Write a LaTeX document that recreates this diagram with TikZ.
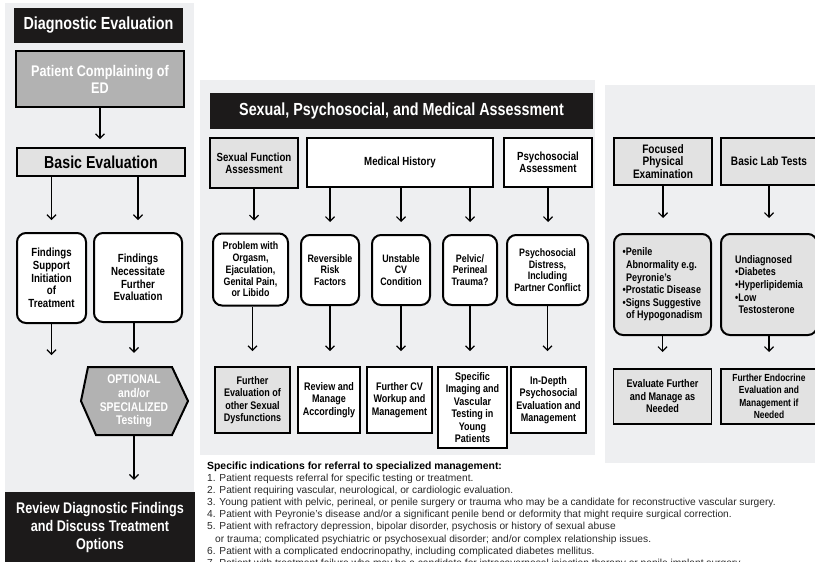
\documentclass[tikz,border=0pt]{standalone}
\usepackage{fontspec}
\setmainfont{Liberation Sans}[FakeStretch=0.82]
\newfontfamily\listfont{Liberation Sans}
\usetikzlibrary{positioning,arrows.meta}
\definecolor{panelgray}{RGB}{238,239,241}
\definecolor{boxgray}{RGB}{178,178,178}
\definecolor{lightbox}{RGB}{226,226,226}
\definecolor{boxblack}{RGB}{28,26,26}
\definecolor{listgray}{RGB}{40,40,40}
\newcommand{\fs}[2]{\fontsize{#1}{#2}\selectfont}

\tikzset{
  >={Straight Barb[length=4.5pt,width=9pt]},
  wh/.style 2 args={minimum width=#1pt, minimum height=#2pt},
  blackbar/.style={fill=boxblack, text=white, inner sep=0pt, align=center, font=\bfseries\fs{17.5}{19}},
  greybox/.style={draw, line width=2pt, fill=boxgray, text=white, inner sep=0pt, align=center, font=\bfseries\fs{15.4}{17}},
  flatbox/.style={draw, line width=1.8pt, fill=white, inner sep=0pt, align=center, font=\bfseries\fs{11}{12.4}},
  softbox/.style={flatbox, fill=lightbox},
  hdbox/.style={flatbox, font=\bfseries\fs{11.8}{12}},
  roundbox/.style={flatbox, line width=2pt, rounded corners=9pt, font=\bfseries\fs{10.8}{11.7}},
  arr/.style={->, line width=1.2pt, shorten >=12pt},
}

\begin{document}
\begin{tikzpicture}[x=1pt, y=-1pt]
\useasboundingbox (0,0) rectangle (815,562);
% panels
\fill[panelgray] (5,3) rectangle (194,492);
\fill[panelgray] (200,80) rectangle (595,455);
\fill[panelgray] (605,85) rectangle (820,463);

% diagnostic evaluation column
\node[blackbar, wh={169}{35}] (diag) at (98.5,25.5) {Diagnostic Evaluation};
\node[greybox, wh={168}{56}] (ed) at (100,79) {Patient Complaining of\\ED};
\node[softbox, wh={168}{28}, font=\bfseries\fs{17.3}{18}] (basic) at (101,162) {Basic Evaluation};
\node[roundbox, wh={69}{90}, font=\bfseries\fs{11.8}{12.7}] (support) at (51.5,278) {Findings\\Support\\Initiation\\of\\Treatment};
\node[roundbox, wh={88}{89}, font=\bfseries\fs{11.8}{12.7}] (further) at (138,277.5) {Findings\\Necessitate\\Further\\Evaluation};
\coordinate (treat) at (51.5,355);
\filldraw[fill=boxgray, line width=2pt] (81,401) -- (88,367) -- (172,367) -- (188,401) -- (172,435) -- (96,435) -- cycle;
\node[wh={108}{68}, inner sep=0pt, align=center, text=white, font=\bfseries\fs{12.6}{13.9}] (opt) at (134,401) {OPTIONAL\\and/or\\SPECIALIZED\\Testing};
\node[blackbar, wh={190}{72}, font=\bfseries\fs{15.4}{18}] (review) at (100,528) {Review Diagnostic Findings\\and Discuss Treatment\\Options};

\draw[arr, shorten >=8pt] (ed.south) -- (ed.south |- basic.north);
\draw[arr] (basic.south -| support) -- (support.north);
\draw[arr] (basic.south -| further) -- (further.north);
\draw[->, line width=1.2pt] (support.south) -- (treat);
\draw[arr, shorten >=14pt] (further.south -| opt) -- (opt.north);
\draw[arr] (opt.south) -- (opt.south |- review.north);

% sexual, psychosocial and medical assessment
\node[blackbar, wh={383}{36}] (title) at (401.5,111) {Sexual, Psychosocial, and Medical Assessment};
\node[hdbox, fill=lightbox, wh={88}{50}] (sfa) at (254,163) {Sexual Function\\Assessment};
\node[hdbox, wh={186}{49}] (hist) at (400,162.5) {Medical History};
\node[hdbox, wh={88}{49}] (psa) at (548,162.5) {Psychosocial\\Assessment};

\node[roundbox, wh={75}{72}] (prob) at (250.5,269.5) {Problem with\\Orgasm,\\Ejaculation,\\Genital Pain,\\or Libido};
\node[roundbox, wh={58}{70}] (risk) at (330,270) {Reversible\\Risk\\Factors};
\node[roundbox, wh={58}{70}] (cv) at (401,270) {Unstable\\CV\\Condition};
\node[roundbox, wh={54}{70}] (pelvic) at (470,270) {Pelvic/\\Perineal\\Trauma?};
\node[roundbox, wh={81}{70}] (distress) at (547.5,270) {Psychosocial\\Distress,\\Including\\Partner Conflict};

\node[softbox, wh={75}{66}] (sexdys) at (252.5,400) {Further\\Evaluation of\\other Sexual\\Dysfunctions};
\node[flatbox, wh={62}{66}] (manage) at (329,400) {Review and\\Manage\\Accordingly};
\node[flatbox, wh={65}{66}] (cvwork) at (399.5,400) {Further CV\\Workup and\\Management};
\node[flatbox, wh={69}{81}] (imaging) at (472.5,407.5) {Specific\\Imaging and\\Vascular\\Testing in\\Young\\Patients};
\node[flatbox, wh={75}{66}] (indepth) at (548.5,400) {In-Depth\\Psychosocial\\Evaluation and\\Management};

\draw[arr] (sfa.south) -- (sfa.south |- prob.north);
\draw[arr] (hist.south -| risk) -- (risk.north);
\draw[arr] (hist.south -| cv) -- (cv.north);
\draw[arr] (hist.south -| pelvic) -- (pelvic.north);
\draw[arr] (psa.south) -- (psa.south |- distress.north);
\draw[arr, shorten >=15pt] (prob.south -| sexdys) -- (sexdys.north);
\draw[arr, shorten >=15pt] (risk.south) -- (risk.south |- manage.north);
\draw[arr, shorten >=15pt] (cv.south) -- (cv.south |- cvwork.north);
\draw[arr, shorten >=15pt] (pelvic.south) -- (pelvic.south |- imaging.north);
\draw[arr, shorten >=15pt] (distress.south) -- (distress.south |- indepth.north);

% physical examination and lab tests
\node[softbox, wh={98}{47}, font=\bfseries\fs{12.3}{12.5}] (exam) at (663,161.5) {Focused\\Physical\\Examination};
\node[softbox, wh={96}{47}, font=\bfseries\fs{12.3}{12.5}] (lab) at (769,161.5) {Basic Lab Tests};
\node[roundbox, fill=lightbox, wh={97}{101}, align=left, font=\bfseries\fs{11}{12.6}] (abn) at (662.5,284.5)
  {\textbullet Penile\\\hspace*{3.5pt}Abnormality e.g.\\\hspace*{3.5pt}Peyronie’s\\\textbullet Prostatic Disease\\\textbullet Signs Suggestive\\\hspace*{3.5pt}of Hypogonadism};
\node[roundbox, fill=lightbox, wh={96}{101}, align=left, font=\bfseries\fs{11}{12.6}] (undiag) at (769,284.5)
  {Undiagnosed\\\textbullet Diabetes\\\textbullet Hyperlipidemia\\\textbullet Low\\\hspace*{3.5pt}Testosterone};
\node[softbox, wh={98}{55}, font=\bfseries\fs{11.1}{12.5}, below=32pt of abn] (evalf) {Evaluate Further\\and Manage as\\Needed};
\node[softbox, wh={96}{55}, font=\bfseries\fs{10.3}{12.2}, below=32pt of undiag] (endo) {Further Endocrine\\Evaluation and\\Management if\\Needed};

\draw[arr, shorten >=15pt] (exam.south) -- (exam.south |- abn.north);
\draw[arr, shorten >=15pt] (lab.south) -- (lab.south |- undiag.north);
\draw[arr, shorten >=16pt] (abn.south) -- (abn.south |- evalf.north);
\draw[arr, shorten >=16pt] (undiag.south) -- (undiag.south |- endo.north);

% referral list
\node[anchor=base west, inner sep=0pt, font=\listfont\bfseries\fs{10.4}{12}] (spec) at (207,469.5) {Specific indications for referral to specialized management:};
\node[anchor=north west, inner sep=0pt, align=left, text=listgray, font=\listfont\fs{10.2}{12.2}] (refs) at (207,473.5) {1. Patient requests referral for specific testing or treatment.\\
2. Patient requiring vascular, neurological, or cardiologic evaluation.\\
3. Young patient with pelvic, perineal, or penile surgery or trauma who may be a candidate for reconstructive vascular surgery.\\
4. Patient with Peyronie’s disease and/or a significant penile bend or deformity that might require surgical correction.\\
5. Patient with refractory depression, bipolar disorder, psychosis or history of sexual abuse\\
\hspace*{8pt}or trauma; complicated psychiatric or psychosexual disorder; and/or complex relationship issues.\\
6. Patient with a complicated endocrinopathy, including complicated diabetes mellitus.\\
7. Patient with treatment failure who may be a candidate for intracavernosal injection therapy or penile implant surgery.};
\end{tikzpicture}
\end{document}
